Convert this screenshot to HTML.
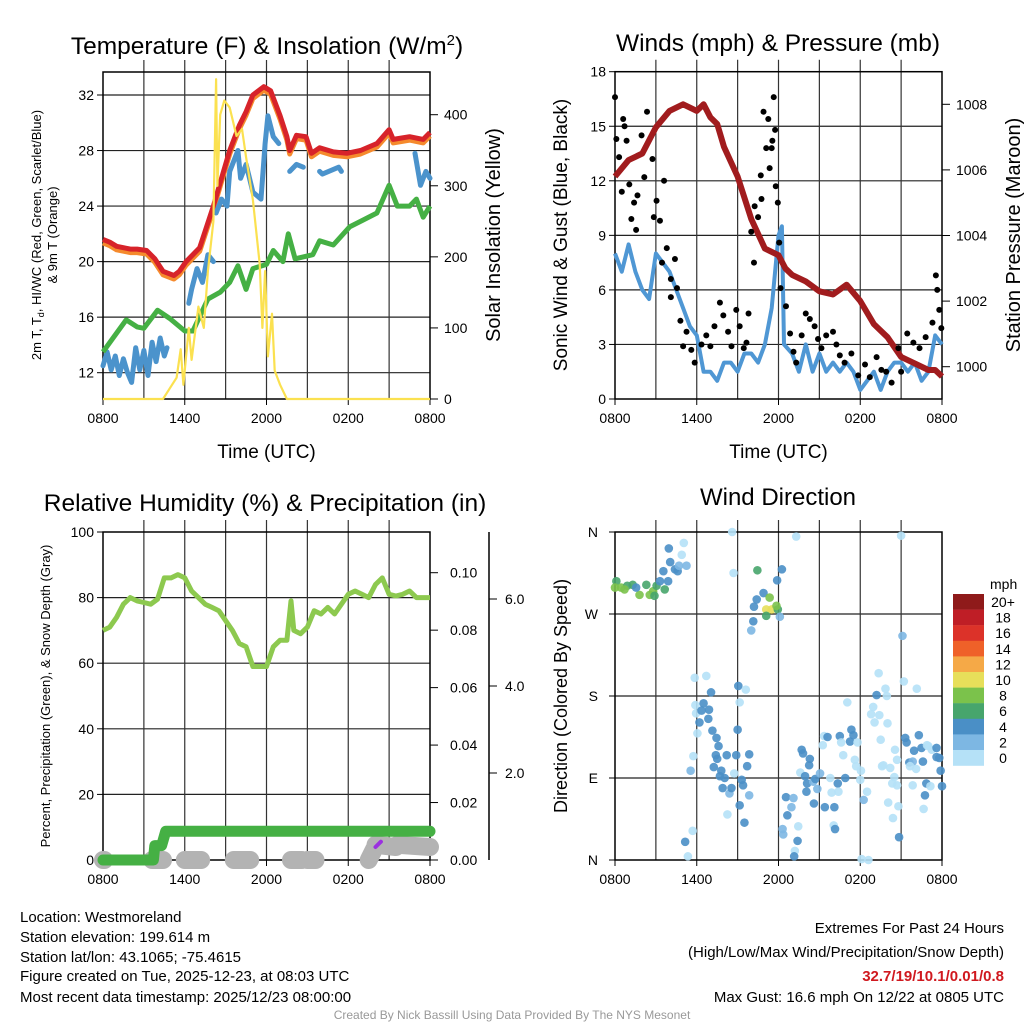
<!DOCTYPE html>
<html><head><meta charset="utf-8"><style>
body{margin:0;background:#fff;}
svg{display:block;font-family:"Liberation Sans",sans-serif;}
</style></head><body>
<svg id="c" width="1024" height="1024" xmlns="http://www.w3.org/2000/svg">
<g id="g1"></g>
<g id="g2"></g>
<g id="g3"></g>
<g id="g4"></g>
<text x="267" y="54" font-size="24.5" text-anchor="middle">Temperature (F) &amp; Insolation (W/m<tspan dy="-9" font-size="15">2</tspan><tspan dy="9">)</tspan></text>
<text x="778" y="51" font-size="24.5" text-anchor="middle">Winds (mph) &amp; Pressure (mb)</text>
<text x="265" y="511" font-size="24.5" text-anchor="middle">Relative Humidity (%) &amp; Precipitation (in)</text>
<text x="778" y="505" font-size="24" text-anchor="middle">Wind Direction</text>
<g font-size="15">
<text x="20" y="922">Location: Westmoreland</text>
<text x="20" y="942">Station elevation: 199.614 m</text>
<text x="20" y="962">Station lat/lon: 43.1065; -75.4615</text>
<text x="20" y="981">Figure created on Tue, 2025-12-23, at 08:03 UTC</text>
<text x="20" y="1002">Most recent data timestamp: 2025/12/23 08:00:00</text>
</g>
<g font-size="15" text-anchor="end">
<text x="1004" y="933">Extremes For Past 24 Hours</text>
<text x="1004" y="957">(High/Low/Max Wind/Precipitation/Snow Depth)</text>
<text x="1004" y="981" fill="#d0191f" font-weight="bold">32.7/19/10.1/0.01/0.8</text>
<text x="1004" y="1002">Max Gust: 16.6 mph On 12/22 at 0805 UTC</text>
</g>
<text x="512" y="1019" font-size="12" fill="#999" text-anchor="middle">Created By Nick Bassill Using Data Provided By The NYS Mesonet</text>
</svg>
<script>
// ---- data ----
const timeTicks=["0800","1400","2000","0200","0800"];
const tempHours=[0,0.5,1,1.5,2,2.5,3.2,3.8,4.4,5.2,5.6,6.1,7.1,8.1,8.7,9.3,10.0,10.5,11.0,11.8,12.3,13.0,13.5,13.7,14.2,14.9,15.3,15.9,16.9,17.9,18.9,20.1,21.0,21.3,22.5,23.5,24];
const tempValues=[21.6,21.4,21.1,21.0,20.9,20.9,20.8,20.2,19.3,19.0,19.3,20.0,21.0,24,26,28,29.8,30.8,32.0,32.6,32.3,30.5,29.0,28.0,29.1,29.0,27.8,28.2,27.9,27.8,28.0,28.5,29.5,28.8,29.0,28.8,29.3];
const chillHours=[0,0.3,0.6,0.9,1.2,1.5,1.8,2.1,2.4,2.7,3.0,3.3,3.6,3.9,4.2,4.5,4.7,5.0,6.3,6.5,6.9,7.3,7.7,8.1,8.2,8.3,8.7,9.1,9.3,9.9,10.1,10.5,11.0,11.6,11.9,12.1,12.5,12.9,13.1,13.7,14.2,14.7,14.9,15.9,16.1,17.3,17.5,21.3,21.5,22.7,22.9,23.3,23.7,24];
const chillValues=[12.5,13.5,12.2,13.2,11.8,13.0,12.0,11.3,13.8,12.2,13.6,11.8,14.2,12.8,14.5,13.2,13.8,null,17.0,18.0,19.5,18.5,20.5,20.0,null,23.5,24.5,24.0,26.5,28.0,26.0,27.0,25.0,24.5,28.5,30.5,29.0,28.5,null,26.5,27.0,26.8,null,26.5,26.3,26.8,26.5,null,27.2,null,27.8,25.5,26.5,26.0];
const dewHours=[0,1.7,2.5,3.0,4.0,4.9,6.0,6.6,7.7,8.6,9.3,9.9,10.5,11.0,12.0,12.5,13.2,13.6,14.1,15.4,15.9,16.9,18.1,19.1,20.1,21.0,21.6,22.5,23.0,23.5,24];
const dewValues=[13.5,15.8,15.3,15.2,16.5,15.9,15.0,15.0,17.3,17.8,18.5,19.7,18.0,19.5,19.8,20.8,20.0,22.0,20.2,20.5,21.5,21.2,22.5,23.0,23.5,25.5,24.0,24.0,24.5,23.2,24];
const solarHours=[0,4.4,4.9,5.4,5.7,5.9,6.3,6.5,7.0,7.4,7.7,8.1,8.3,8.4,8.6,8.9,9.3,9.8,10.2,10.5,11.0,11.5,11.7,11.9,12.1,12.4,12.6,13.0,13.5,24];
const solarValues=[0,0,15,30,70,20,100,55,130,100,180,250,450,300,400,420,410,370,380,340,280,190,100,180,60,120,40,20,0,0];
const windHours=[0,0.5,1,1.5,2,2.5,3,3.5,4,4.5,5,5.5,6,6.5,7,7.5,8,8.5,9,9.5,10,10.5,11,11.5,12,12.25,12.4,13,13.5,14,14.5,15,15.5,16,16.5,17,17.5,18,18.5,19,19.5,20,20.5,21,21.5,22,22.5,23,23.5,24];
const windValues=[8,7,8.5,7,6,5.5,8,7.5,7,6,5,4,3.5,1.5,1.5,1,2,2,1.5,2.5,2.5,2,3,5,9,9.5,3,2.5,1.5,3,1.5,2.5,1.5,2,1.5,2,1.5,0.5,1,1.5,0.5,1.5,2,2,1.5,2,1,1.5,3.5,3];
const presHours=[0,1,2,3,4,5,6,6.5,7,7.5,8,9,10,11,12,12.5,13,14,15,16,17,18,19,20,21,22,23,23.5,24];
const presValues=[1005.8,1006.3,1006.5,1007.3,1007.8,1008,1007.8,1008.0,1007.6,1007.4,1006.7,1005.8,1004.5,1003.6,1003.4,1003.0,1002.8,1002.6,1002.3,1002.2,1002.5,1002.0,1001.3,1000.9,1000.3,1000.1,999.9,999.9,999.7];
const gustHours=[0,0.1,0.3,0.6,0.7,0.85,0.5,1.05,1.2,1.4,1.55,1.65,1.95,2.35,2.15,2.75,3.05,2.85,3.6,3.3,3.8,3.45,4.1,4.4,4.1,4.55,4.8,5.0,5.25,5.6,5.85,6.35,6.7,7.0,7.3,7.7,7.95,8.3,8.55,8.9,9.15,9.45,9.8,9.65,10.0,10.25,10.5,10.2,10.7,10.75,10.9,11.1,11.25,11.35,11.5,11.55,11.65,11.75,11.8,11.95,12.05,12.15,12.55,12.85,13.1,13.3,13.7,14.0,14.3,14.65,14.9,15.15,15.5,16.0,16.25,16.5,16.85,17.35,17.85,18.35,18.7,19.2,19.55,19.9,20.3,20.8,21.0,21.45,21.9,22.35,22.8,23.3,23.55,23.65,23.8,23.95];
const gustValues=[16.6,14.3,13.3,15.4,15.0,14.2,11.4,11.8,9.9,10.8,9.3,11.2,14.5,15.8,12.2,13.2,10.9,10.0,12.0,9.8,8.3,7.5,6.6,7.7,5.6,6.1,4.3,2.9,3.7,2.7,2.0,3.0,3.5,2.9,4.0,5.3,4.6,3.7,2.9,4.9,4.0,2.8,4.7,3.1,9.2,10.6,10.0,7.5,12.3,11.0,15.8,13.8,15.4,12.7,13.8,14.2,16.6,14.8,11.7,10.8,8.6,6.1,5.1,3.6,2.6,2.0,3.5,4.7,4.4,4.0,3.3,2.8,3.5,3.7,3.0,2.4,2.0,2.5,1.3,1.9,1.2,2.3,1.6,1.5,0.9,2.8,1.5,3.6,3.1,2.8,3.4,4.2,6.8,6.0,4.9,3.9];
const rhHours=[0,0.5,1,1.5,2,2.5,3,3.5,4,4.5,5,5.5,6,6.5,7,7.5,8,8.5,9,9.5,10,10.5,11,11.5,12,12.5,13,13.5,13.8,14,14.5,15,15.5,16,16.5,17,17.5,18,18.5,19,19.5,20,20.5,21,21.5,22,22.5,23,23.5,24];
const rhValues=[70,71,74,78,80,79,78.5,78,79.5,86,86,87,86,82,80,78,77,76,73,70,66,65,59,59,59,65,67,67,79,70,69,71,76,75,77,75,78,81,82,81,80,84,86,81,80.5,81,82,80,80,80];
const precipHours=[0,3.7,3.8,4.3,4.6,24];
const precipValues=[0,0,0.005,0.005,0.01,0.01];
const snowHours=[[0,0.1],[3.6,4.4],[6.0,7.2],[9.6,10.8],[13.8,14.6],[15.0,15.6],[19.5,19.9],[20.0,21.5],[21.6,24]];
const snowValues=[[0,0],[0,0],[0,0],[0,0],[0,0],[0,0],[0,0.25],[0.35,0.3],[0.35,0.3]];
const dirHours=[0.1,0.45,0.9,1.3,1.8,2.3,2.8,3.05,3.65,0,0.7,1.55,2.55,2.9,3.3,3.55,3.9,4.05,3.95,4.4,4.6,4.9,5.05,5.25,4.7,8.6,8.7,13.3,21.0,21.1,21.2,22.15,10.45,10.2,10.4,10.9,11.35,11.1,11.5,11.95,11.85,11.1,10.15,10.0,11.9,12.25,12.1,5.85,6.7,7.05,5.9,6.5,5.95,6.35,6.9,6.2,6.85,6.05,7.15,7.45,7.6,7.4,7.5,7.25,7.8,7.7,8.05,7.9,8.4,8.55,8.25,8.2,8.9,9.0,9.05,9.15,9.6,9.3,9.4,9.15,9.5,9.85,9.7,9.85,8.75,5.75,5.55,5.15,5.7,5.35,12.55,12.65,12.35,12.3,12.95,13.1,13.45,13.4,13.2,13.15,13.7,13.8,14.3,14.25,13.6,13.95,14.1,14.05,14.55,14.7,15.05,14.85,14.6,15.4,15.8,15.25,15.35,15.6,15.9,16.1,16.35,16.4,16.05,16.15,16.5,16.75,16.9,16.6,17.05,17.25,17.35,17.5,17.6,17.8,17.7,18.05,18.0,18.25,18.5,18.1,18.6,18.95,19.2,19.35,19.85,19.95,18.8,19.05,19.4,20.0,19.5,19.6,19.7,20.2,20.55,20.7,20.5,20.35,20.7,20.05,20.8,20.4,20.85,21.3,21.4,21.95,21.6,21.85,21.65,22.1,22.3,22.5,22.6,22.9,23.0,23.25,23.6,23.6,23.8,23.9,24.0,22.85,23.15,22.75,22.65,21.85];
const dirDegrees=[306,299,301,302,291,302,295,301,297,299,297,299,291,290,306,317,306,327,342,319,317,335,348,323,323,360,315,355,356,246,196,188,318,278,286,293,288,275,275,275,279,268,262,252,307,319,267,200,202,184,170,172,161,164,165,151,155,139,142,134,125,115,111,102,98,92,90,79,73,79,50,115,115,143,191,173,187,88,82,60,41,71,103,116,95,114,98,20,32,4,69,49,28,34,58,68,37,21,10,4,121,117,111,104,96,92,84,75,86,89,95,78,62,58,90,126,136,135,74,58,84,75,38,34,136,115,90,129,173,130,143,137,110,129,103,98,88,66,75,1,0,168,181,205,188,180,160,151,159,150,132,103,104,101,121,110,91,84,82,63,59,46,25,134,129,120,107,108,103,100,137,123,108,126,125,121,123,113,112,98,81,84,81,71,56,82];
const dirSpeeds=[7,8,7,6,8,6,8,6,6,8,8,5,8,7,4,4,4,4,4,4,4,1,1,2,2,1,1,1,1,2,1,1,6,4,4,4,8,10,10,6,8,7,4,2,4,4,2,1,1,4,1,4,1,4,4,4,4,1,4,4,4,4,4,4,4,4,4,4,2,4,1,4,4,4,4,1,1,4,4,4,4,2,4,4,1,1,2,4,1,1,4,4,2,2,2,2,1,4,1,4,4,4,4,4,1,4,4,4,2,4,2,2,4,4,1,1,1,4,1,4,4,1,1,4,4,1,4,1,1,4,4,4,1,1,1,1,1,2,1,1,1,1,4,1,1,1,1,1,1,1,1,1,1,1,1,1,1,1,1,1,1,1,4,4,4,4,4,2,1,1,4,4,4,1,1,1,4,4,4,4,4,4,1,4,1,1];
const speedLabels=["20+","18","16","14","12","10","8","6","4","2","0"];
const speedColors=["#8f1a1a","#bf1e26","#dc3229","#ef6129","#f5a947","#e7df5a","#7bc24b","#47a56c","#4a8fc6","#7db7e3","#b5e1f7"];

// ---- helpers ----
const NS="http://www.w3.org/2000/svg";
function mk(parent,tag,attrs,name,text){
  const e=document.createElementNS(NS,tag);
  for(const k in attrs)e.setAttribute(k,attrs[k]);
  
  
  if(text!==undefined)e.textContent=text;
  parent.appendChild(e);return e;
}
function path(xs,ys,fx,fy){
  let d="",pen=false;
  for(let i=0;i<xs.length;i++){
    if(ys[i]===null){pen=false;continue;}
    d+=(pen?"L":"M")+fx(xs[i]).toFixed(1)+","+fy(ys[i]).toFixed(1);pen=true;
  }return d;
}
function frame(g,x0,x1,y0,y1,hg,vg,pre){
  for(const y of hg) mk(g,'line',{x1:x0,x2:x1,y1:y,y2:y,stroke:'#222','stroke-width':1.2},pre+'-hgrid');
  for(const x of vg) mk(g,'line',{x1:x,x2:x,y1:y0-12,y2:y1,stroke:'#333','stroke-width':1.2},pre+'-vgrid');
  mk(g,'rect',{x:x0,y:y0,width:x1-x0,height:y1-y0,fill:'none',stroke:'#000','stroke-width':1.5},pre+'-frame');
}
function timeAxis(g,x0,x1,yb,pre,title){
  const fx=h=>x0+(x1-x0)*h/24;
  const vg=[];for(let h=3;h<24;h+=3)vg.push(fx(h));
  timeTicks.forEach((t,i)=>{
    mk(g,'line',{x1:fx(i*6),x2:fx(i*6),y1:yb,y2:yb+6,stroke:'#000'},pre+'-x-tick');
    mk(g,'text',{x:fx(i*6),y:yb+24,'font-size':14,'text-anchor':'middle'},pre+'-x-tick-label',t);
  });
  if(title)mk(g,'text',{x:(x0+x1)/2,y:yb+59,'font-size':19,'text-anchor':'middle'},pre+'-x-axis-title',title);
  return {fx,vg};
}
function leftTicks(g,x0,vals,fy,pre,fmt){
  vals.forEach(v=>{
    mk(g,'line',{x1:x0-6,x2:x0,y1:fy(v),y2:fy(v),stroke:'#000'},pre+'-y-tick');
    mk(g,'text',{x:x0-9,y:fy(v)+5,'font-size':14,'text-anchor':'end'},pre+'-y-tick-label',fmt?fmt(v):v);
  });
}
function rightTicks(g,x1,vals,fy,pre,fmt,dx){
  vals.forEach(v=>{
    mk(g,'line',{x1:x1,x2:x1+8,y1:fy(v),y2:fy(v),stroke:'#000'},pre+'-right-tick');
    mk(g,'text',{x:x1+(dx||14),y:fy(v)+5,'font-size':14},pre+'-right-tick-label',fmt?fmt(v):v);
  });
}
function rot(g,x,y,size,txt,name){
  return mk(g,'text',{x:0,y:0,'font-size':size,'text-anchor':'middle',transform:`translate(${x},${y}) rotate(-90)`},name,txt);
}

// ---- Panel 1 ----
(function(){
  const g=document.getElementById('g1');
  const x0=103,x1=430,y0=72,y1=399;
  const {fx,vg}=timeAxis(g,x0,x1,y1,'temp','Time (UTC)');
  const fy=v=>372.7-(v-12)*(372.7-95)/20;
  const fs=v=>399-v*(399-114.7)/400;
  frame(g,x0,x1,y0,y1,[12,16,20,24,28,32].map(fy),vg,'temp');
  leftTicks(g,x0,[12,16,20,24,28,32],fy,'temp');
  rightTicks(g,x1,[0,100,200,300,400],fs,'temp');
  const tempOff=tempValues.map(v=>v-0.25);
  mk(g,'path',{d:path(tempHours,tempOff,fx,fy),fill:'none',stroke:'#f58a2d','stroke-width':5,'stroke-linejoin':'round'},'9m-temperature-line');
  mk(g,'path',{d:path(tempHours,tempValues,fx,fy),fill:'none',stroke:'#d7232a','stroke-width':5,'stroke-linejoin':'round'},'temperature-line');
  mk(g,'path',{d:path(chillHours,chillValues,fx,fy),fill:'none',stroke:'#4b93cc','stroke-width':5,'stroke-linejoin':'round','stroke-linecap':'round'},'wind-chill-line');
  mk(g,'path',{d:path(dewHours,dewValues,fx,fy),fill:'none',stroke:'#45b044','stroke-width':5,'stroke-linejoin':'round'},'dewpoint-line');
  mk(g,'path',{d:path(solarHours,solarValues,fx,fs),fill:'none',stroke:'#fbe150','stroke-width':2.2,'stroke-linejoin':'round'},'solar-insolation-line');
  const t=rot(g,41,235,13,'','temp-y-axis-title');
  t.innerHTML='2m T, T<tspan font-size="9" dy="3">d</tspan><tspan dy="-3">, HI/WC (Red, Green, Scarlet/Blue)</tspan>';
  rot(g,57,235,13,'& 9m T (Orange)','temp-y-axis-title-2');
  rot(g,500,235,20,'Solar Insolation (Yellow)','solar-y-axis-title');
})();

// ---- Panel 2 ----
(function(){
  const g=document.getElementById('g2');
  const x0=615,x1=942,y0=71.7,y1=399;
  const {fx,vg}=timeAxis(g,x0,x1,y1,'wind','Time (UTC)');
  const fy=v=>399-v*(399-71.7)/18;
  const fp=p=>366.7-(p-1000)*(366.7-104.3)/8;
  frame(g,x0,x1,y0,y1,[3,6,9,12,15].map(fy),vg,'wind');
  leftTicks(g,x0,[0,3,6,9,12,15,18],fy,'wind');
  rightTicks(g,x1,[1000,1002,1004,1006,1008],fp,'wind');
  mk(g,'path',{d:path(windHours,windValues,fx,fy),fill:'none',stroke:'#4f97d4','stroke-width':4,'stroke-linejoin':'round'},'sonic-wind-line');
  mk(g,'path',{d:path(presHours,presValues,fx,fp),fill:'none',stroke:'#a11c1e','stroke-width':6,'stroke-linejoin':'round'},'pressure-line');
  gustHours.forEach((h,i)=>{
    mk(g,'circle',{cx:fx(h),cy:fy(gustValues[i]),r:3,fill:'#000'},'gust-point');
  });
  rot(g,567,235,19,'Sonic Wind & Gust (Blue, Black)','wind-y-axis-title');
  rot(g,1020,235,20,'Station Pressure (Maroon)','pressure-y-axis-title');
})();

// ---- Panel 3 ----
(function(){
  const g=document.getElementById('g3');
  const x0=103,x1=430,y0=532,y1=860;
  const {fx,vg}=timeAxis(g,x0,x1,y1,'rh',null);
  const fy=v=>860-v*(860-532)/100;
  const fpr=v=>860-v*(860-572.7)/0.1;
  const fsn=v=>860-v*(860-599)/6;
  frame(g,x0,x1,y0,y1,[20,40,60,80].map(fy),vg,'rh');
  leftTicks(g,x0,[0,20,40,60,80,100],fy,'rh');
  rightTicks(g,x1,[0,0.02,0.04,0.06,0.08,0.10],fpr,'rh',v=>v.toFixed(2),20);
  mk(g,'line',{x1:489,x2:489,y1:532,y2:860,stroke:'#000','stroke-width':1.5},'snow-axis-line');
  [2,4,6].forEach(v=>{
    mk(g,'line',{x1:489,x2:497,y1:fsn(v),y2:fsn(v),stroke:'#000'},'snow-axis-tick');
    mk(g,'text',{x:505,y:fsn(v)+5,'font-size':14},'snow-axis-tick-label',v.toFixed(1));
  });
  snowHours.forEach((hh,i)=>{
    mk(g,'path',{d:path(hh,snowValues[i],fx,fsn),fill:'none',stroke:'#b3b3b3','stroke-width':18,'stroke-linecap':'round','stroke-linejoin':'round'},'snow-depth-blob');
  });
  mk(g,'path',{d:path([20.0,20.4],[0.3,0.42],fx,fsn),fill:'none',stroke:'#9b30e0','stroke-width':4,'stroke-linecap':'round'},'new-snow-mark');
  mk(g,'path',{d:path(precipHours,precipValues,fx,fpr),fill:'none',stroke:'#45b044','stroke-width':11,'stroke-linecap':'round','stroke-linejoin':'round'},'precipitation-line');
  mk(g,'path',{d:path(rhHours,rhValues,fx,fy),fill:'none',stroke:'#8dc94f','stroke-width':5,'stroke-linejoin':'round'},'relative-humidity-line');
  rot(g,50,696,13,'Percent, Precipitation (Green), & Snow Depth (Gray)','rh-y-axis-title');
})();

// ---- Panel 4 ----
(function(){
  const g=document.getElementById('g4');
  const x0=615,x1=942,y0=532,y1=860;
  const {fx,vg}=timeAxis(g,x0,x1,y1,'dir',null);
  const fd=d=>860-d*(860-532)/360;
  frame(g,x0,x1,y0,y1,[90,180,270].map(fd),vg,'dir');
  [[0,'N'],[90,'E'],[180,'S'],[270,'W'],[360,'N']].forEach(([d,l])=>{
    mk(g,'line',{x1:x0-6,x2:x0,y1:fd(d),y2:fd(d),stroke:'#000'},'dir-y-tick');
    mk(g,'text',{x:x0-17,y:fd(d)+5,'font-size':14,'text-anchor':'end'},'dir-y-tick-label',l);
  });
  dirHours.forEach((h,i)=>{
    const s=dirSpeeds[i];
    const bin=Math.min(10,Math.floor(s/2));
    mk(g,'circle',{cx:fx(h),cy:fd(dirDegrees[i]),r:4.3,fill:speedColors[10-bin],'fill-opacity':0.9},'direction-point');
  });
  rot(g,567,696,18,'Direction (Colored By Speed)','dir-y-axis-title');
  mk(g,'text',{x:990,y:589,'font-size':14},'colorbar-title','mph');
  speedLabels.forEach((l,i)=>{
    const y=594+i*15.6;
    mk(g,'rect',{x:953,y:y,width:31,height:15.8,fill:speedColors[i]},'colorbar-box');
    mk(g,'text',{x:1003,y:y+13,'font-size':14,'text-anchor':'middle'},'colorbar-label',l);
  });
})();
</script>
</body></html>
